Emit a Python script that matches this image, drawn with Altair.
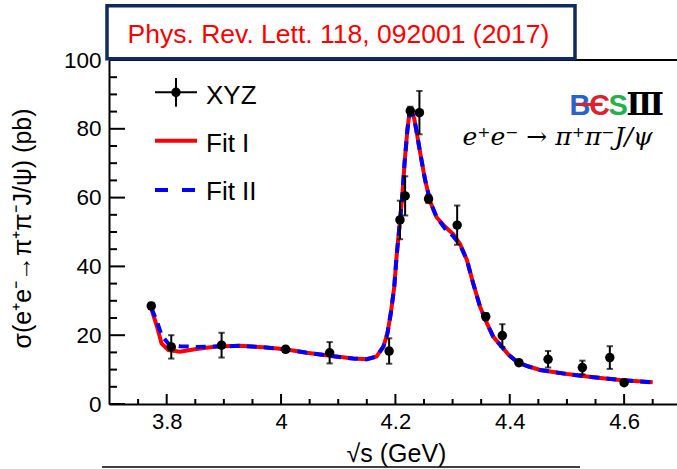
import altair as alt
import pandas as pd

# Measured cross sections: sqrt(s) [GeV], sigma [pb], symmetric error [pb]
energy = [3.773, 3.808, 3.896, 4.008, 4.085, 4.189, 4.208, 4.217, 4.226, 4.242,
          4.258, 4.308, 4.358, 4.387, 4.416, 4.467, 4.527, 4.575, 4.600]
sigma = [28.5, 16.6, 17.1, 15.9, 14.9, 15.4, 53.5, 60.5, 85.2, 84.7,
         59.6, 52.0, 25.4, 19.9, 12.0, 13.0, 10.6, 13.5, 6.2]
sigma_err = [0.9, 3.4, 3.6, 0.8, 3.1, 3.7, 5.6, 5.7, 1.2, 6.3,
             1.2, 5.7, 1.0, 3.3, 0.7, 2.4, 2.0, 3.3, 0.6]

# Fit curves sampled along sqrt(s)
fit_e = [3.773, 3.783, 3.791, 3.803, 3.823, 3.852, 3.887, 3.928, 3.969, 4.007,
         4.045, 4.086, 4.126, 4.150, 4.167, 4.179, 4.186, 4.192, 4.198, 4.202,
         4.207, 4.212, 4.216, 4.221, 4.224, 4.229, 4.233, 4.238, 4.244, 4.252,
         4.261, 4.272, 4.287, 4.301, 4.313, 4.325, 4.336, 4.348, 4.360, 4.371,
         4.383, 4.398, 4.415, 4.433, 4.453, 4.500, 4.546, 4.593, 4.650]
fit1 = [27.8, 22.5, 17.6, 15.7, 15.2, 16.0, 16.7, 16.9, 16.5, 15.9,
        14.9, 14.0, 13.2, 13.0, 13.8, 16.7, 20.5, 26.4, 34.1, 42.8,
        51.5, 60.3, 70.0, 79.7, 83.7, 84.7, 83.0, 78.2, 72.4, 65.1,
        58.8, 54.3, 51.5, 49.4, 46.5, 41.9, 35.1, 28.3, 23.5, 19.6,
        17.2, 14.3, 12.0, 10.9, 9.9, 8.7, 7.8, 7.0, 6.3]
fit2 = [28.0, 24.0, 20.0, 17.5, 16.8, 16.6, 16.7, 16.9, 16.5, 15.9,
        14.9, 14.0, 13.2, 13.0, 13.8, 16.7, 20.5, 26.4, 34.1, 42.8,
        51.5, 60.3, 70.0, 79.7, 83.7, 84.7, 83.0, 78.2, 72.4, 65.1,
        58.8, 54.3, 51.0, 48.8, 46.3, 41.9, 35.1, 28.3, 23.5, 19.6,
        17.2, 14.3, 12.0, 10.9, 9.9, 8.7, 7.8, 7.0, 6.3]

# Axis ticks
x_major = [3.8, 4.0, 4.2, 4.4, 4.6]
x_minor = [3.75, 3.85, 3.9, 3.95, 4.05, 4.1, 4.15, 4.25, 4.3, 4.35,
           4.45, 4.5, 4.55, 4.65]
y_major = [0, 20, 40, 60, 80, 100]
y_minor = [5, 10, 15, 25, 30, 35, 45, 50, 55, 65, 70, 75, 85, 90, 95]

W, H = 568, 344
FONT = "Liberation Sans"
X_TITLE = "√s (GeV)"
Y_TITLE = "σ(e⁺e⁻→π⁺π⁻J/ψ) (pb)"

pts = pd.DataFrame({"e": energy, "s": sigma, "err": sigma_err})
pts["lo"] = pts["s"] - pts["err"]
pts["hi"] = pts["s"] + pts["err"]
fits = pd.DataFrame({"e": fit_e, "f1": fit1, "f2": fit2})
one = pd.DataFrame({"k": [0]})

xs = alt.Scale(domain=[3.6991, 4.6925], nice=False, zero=False)
ys = alt.Scale(domain=[0, 100], nice=False, zero=False)

x_axis = alt.Axis(
    values=x_major, format="~g", ticks=False, grid=False, labelFlush=False,
    domainColor="black", domainWidth=2,
    labelFont=FONT, labelFontSize=22, labelColor="black", labelPadding=7,
    titleFont=FONT, titleFontSize=25, titleFontWeight="normal", titleColor="black",
    titleX=287, titleY=57, titleAlign="center", titleBaseline="alphabetic",
)
y_axis = alt.Axis(
    values=y_major, ticks=False, grid=False,
    domainColor="black", domainWidth=2,
    labelFont=FONT, labelFontSize=22.5, labelColor="black", labelPadding=8,
    titleFont=FONT, titleFontSize=25, titleFontWeight="normal", titleColor="black",
    titleX=-87, titleY=168, titleAngle=270, titleAlign="center", titleBaseline="middle",
)


# Every layer carries the same axis definitions so they merge cleanly
def X(field):
    return alt.X(field, type="quantitative", scale=xs, axis=x_axis, title=X_TITLE)


def Y(field):
    return alt.Y(field, type="quantitative", scale=ys, axis=y_axis, title=Y_TITLE)


# Inward-pointing tick marks
def xticks(vals, length):
    return alt.Chart(pd.DataFrame({"v": vals})).mark_rule(color="black", strokeWidth=2).encode(
        x=X("v"), y=alt.value(H), y2=alt.value(H - length))


def yticks(vals, length):
    return alt.Chart(pd.DataFrame({"v": vals})).mark_rule(color="black", strokeWidth=2).encode(
        y=Y("v"), x=alt.value(0), x2=alt.value(length))


frame_top = alt.Chart(one).mark_rule(color="black", strokeWidth=2).encode(
    x=alt.value(0), x2=alt.value(W), y=alt.value(0))

line1 = alt.Chart(fits).mark_line(color="#ff0000", strokeWidth=4).encode(x=X("e"), y=Y("f1"))
line2 = alt.Chart(fits).mark_line(color="#0000ff", strokeWidth=4, strokeDash=[10, 7]).encode(
    x=X("e"), y=Y("f2"))

bars = alt.Chart(pts).mark_rule(color="black", strokeWidth=2).encode(
    x=X("e"), y=Y("lo"), y2="hi:Q")
caps_hi = alt.Chart(pts).mark_point(shape="stroke", size=40, color="black", strokeWidth=2).encode(
    x=X("e"), y=Y("hi"))
caps_lo = alt.Chart(pts).mark_point(shape="stroke", size=40, color="black", strokeWidth=2).encode(
    x=X("e"), y=Y("lo"))
points = alt.Chart(pts).mark_circle(size=90, color="black", opacity=1).encode(
    x=X("e"), y=Y("s"))

# Legend
leg_h = alt.Chart(one).mark_rule(color="black", strokeWidth=2).encode(
    x=alt.value(46), x2=alt.value(88), y=alt.value(32.3))
leg_v = alt.Chart(one).mark_rule(color="black", strokeWidth=2).encode(
    x=alt.value(67), y=alt.value(18), y2=alt.value(46.7))
leg_dot = alt.Chart(one).mark_circle(size=90, color="black", opacity=1).encode(
    x=alt.value(67), y=alt.value(32.3))
leg_red = alt.Chart(one).mark_rule(color="#ff0000", strokeWidth=4).encode(
    x=alt.value(46), x2=alt.value(88), y=alt.value(80.7))
leg_blue = alt.Chart(one).mark_rule(color="#0000ff", strokeWidth=4, strokeDash=[13, 14]).encode(
    x=alt.value(46), x2=alt.value(88), y=alt.value(130))
leg_text = alt.Chart(pd.DataFrame({"t": ["XYZ", "Fit I", "Fit II"], "yy": [44.3, 91.7, 140]})).mark_text(
    font=FONT, fontSize=26, align="left", baseline="alphabetic", color="black").encode(
    x=alt.value(97), y=alt.Y("yy:Q", scale=None), text="t:N")

# Experiment logo and reaction label
logo = alt.Chart(pd.DataFrame({
    "t": ["B", "Є", "S"], "xx": [471, 490.5, 509.2], "c": ["#2b62c8", "#e0202e", "#22b14c"]
})).mark_text(font=FONT, fontSize=29, fontWeight="bold",
              align="center", baseline="alphabetic").encode(
    x=alt.X("xx:Q", scale=None), y=alt.value(55), text="t:N", color=alt.Color("c:N", scale=None))
logo_bar = alt.Chart(one).mark_rule(color="#e0202e", strokeWidth=3).encode(
    x=alt.value(468), x2=alt.value(484), y=alt.value(44.5))
logo_num = alt.Chart(one).mark_text(text="Ⅲ", font="DejaVu Serif", fontSize=31, fontWeight="bold",
                                     align="center", baseline="alphabetic", color="black").encode(
    x=alt.value(536), y=alt.value(55))
reaction = alt.Chart(one).mark_text(text="e⁺e⁻ → π⁺π⁻J/ψ", font="DejaVu Serif", fontSize=25,
                                     fontStyle="italic", align="center", baseline="alphabetic",
                                     color="black").encode(
    x=alt.value(448.5), y=alt.value(85))

# Reference box above the frame
ref_box = alt.Chart(one).mark_rect(fill="white", stroke="#0f2b5b", strokeWidth=3.5).encode(
    x=alt.value(-2), x2=alt.value(466), y=alt.value(-54.3), y2=alt.value(-1.3))
ref_text = alt.Chart(one).mark_text(text="Phys. Rev. Lett. 118, 092001 (2017)", font=FONT,
                                     fontSize=26.5, color="#ff0000", align="center",
                                     baseline="alphabetic").encode(
    x=alt.value(229.5), y=alt.value(-17))
underline = alt.Chart(one).mark_rule(color="black", strokeWidth=1.5).encode(
    x=alt.value(-7), x2=alt.value(471), y=alt.value(407))

chart = alt.layer(
    frame_top,
    xticks(x_major, 10), xticks(x_minor, 5), yticks(y_major, 16), yticks(y_minor, 8),
    line1, line2, bars, caps_hi, caps_lo, points,
    leg_h, leg_v, leg_dot, leg_red, leg_blue, leg_text,
    logo, logo_bar, logo_num, reaction,
    ref_box, ref_text, underline,
).properties(
    width=W, height=H,
    autosize=alt.AutoSizeParams(type="none"),
    padding={"left": 109, "top": 60, "right": 0, "bottom": 65},
    background="white",
).configure_view(stroke=None)

chart.save("out.html", embed_options={"renderer": "svg", "actions": False})
